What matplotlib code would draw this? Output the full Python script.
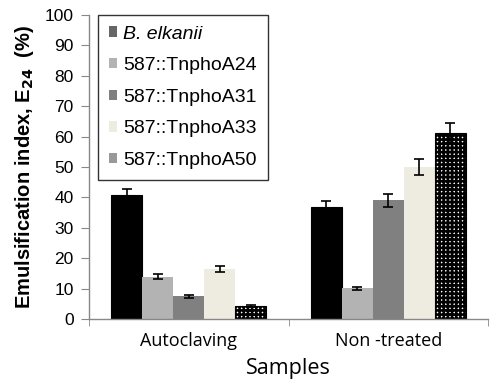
import matplotlib
matplotlib.use("Agg")
import matplotlib.pyplot as plt
from matplotlib.patches import Patch
import numpy as np

plt.rcParams['hatch.linewidth'] = 1.9

categories = ["Autoclaving", "Non -treated"]
series = ["B. elkanii", "587::TnphoA24", "587::TnphoA31", "587::TnphoA33", "587::TnphoA50"]
values = {
    "B. elkanii":     [40.7, 36.7],
    "587::TnphoA24":  [14.0, 10.1],
    "587::TnphoA31":  [7.5, 39.0],
    "587::TnphoA33":  [16.4, 50.0],
    "587::TnphoA50":  [4.4, 61.1],
}
errors = {
    "B. elkanii":     [2.0, 2.0],
    "587::TnphoA24":  [0.8, 0.5],
    "587::TnphoA31":  [0.5, 2.0],
    "587::TnphoA33":  [0.9, 2.6],
    "587::TnphoA50":  [0.3, 3.2],
}
yticks = [0, 10, 20, 30, 40, 50, 60, 70, 80, 90, 100]

bar_colors = ["#000000", "#b3b3b3", "#808080", "#eeebe0", "#ffffff"]
legend_colors = ["#666666", "#b3b3b3", "#808080", "#eeebe0", "#999999"]

fig = plt.figure(figsize=(5.0, 3.92), dpi=100)
ax = fig.add_axes([0.178, 0.186, 0.798, 0.776])

x = np.arange(len(categories))
w = 0.155
for i, s in enumerate(series):
    pos = x + (i - 2) * w
    if s == "587::TnphoA50":
        ax.bar(pos, values[s], w, color="white", edgecolor="black", hatch="++++",
               linewidth=0.8, zorder=2)
    else:
        ax.bar(pos, values[s], w, color=bar_colors[i],
               edgecolor="black" if i == 0 else "none", linewidth=0.8, zorder=2)
    ax.errorbar(pos, values[s], yerr=errors[s], fmt="none", ecolor="black",
                elinewidth=1.2, capsize=3.5, capthick=1.2, zorder=3)

ax.set_xlim(-0.5, 1.5)
ax.set_ylim(0, 100)
ax.set_yticks(yticks)
ax.set_yticklabels([str(t) for t in yticks], fontsize=12.5, family="Liberation Sans")
ax.set_xticks(x)
ax.set_xticklabels(categories, fontsize=13, family="Open Sans")
ax.tick_params(axis="x", length=0, pad=9)
ax.set_xticks([-0.5, 0.5, 1.5], minor=True)
ax.tick_params(axis="x", which="minor", length=5, color="#888888", direction="out")
ax.tick_params(axis="y", length=6, color="#888888", direction="out", pad=5)

for sp in ["top", "right"]:
    ax.spines[sp].set_visible(False)
for sp in ["left", "bottom"]:
    ax.spines[sp].set_color("#888888")
    ax.spines[sp].set_linewidth(1.0)

ax.set_ylabel(r"Emulsification index, E$_{\mathbf{24}}$  (%)", fontsize=14.5,
              fontweight="bold", family="Liberation Sans", labelpad=6)
ax.set_xlabel("Samples", fontsize=15.5, family="Open Sans", labelpad=6)

handles = [Patch(facecolor=c, edgecolor="none") for c in legend_colors]
leg = ax.legend(handles, series, loc="upper left", bbox_to_anchor=(0.0226, 1.0),
                borderaxespad=0, frameon=True, fancybox=False, edgecolor="black",
                prop={"family": "Liberation Sans", "size": 14},
                handlelength=0.45, handleheight=0.45, handletextpad=0.3,
                labelspacing=0.75, borderpad=0.55)
leg.get_frame().set_linewidth(1.0)
leg.texts[0].set_fontstyle("italic")

fig.savefig("out.png", dpi=100)
